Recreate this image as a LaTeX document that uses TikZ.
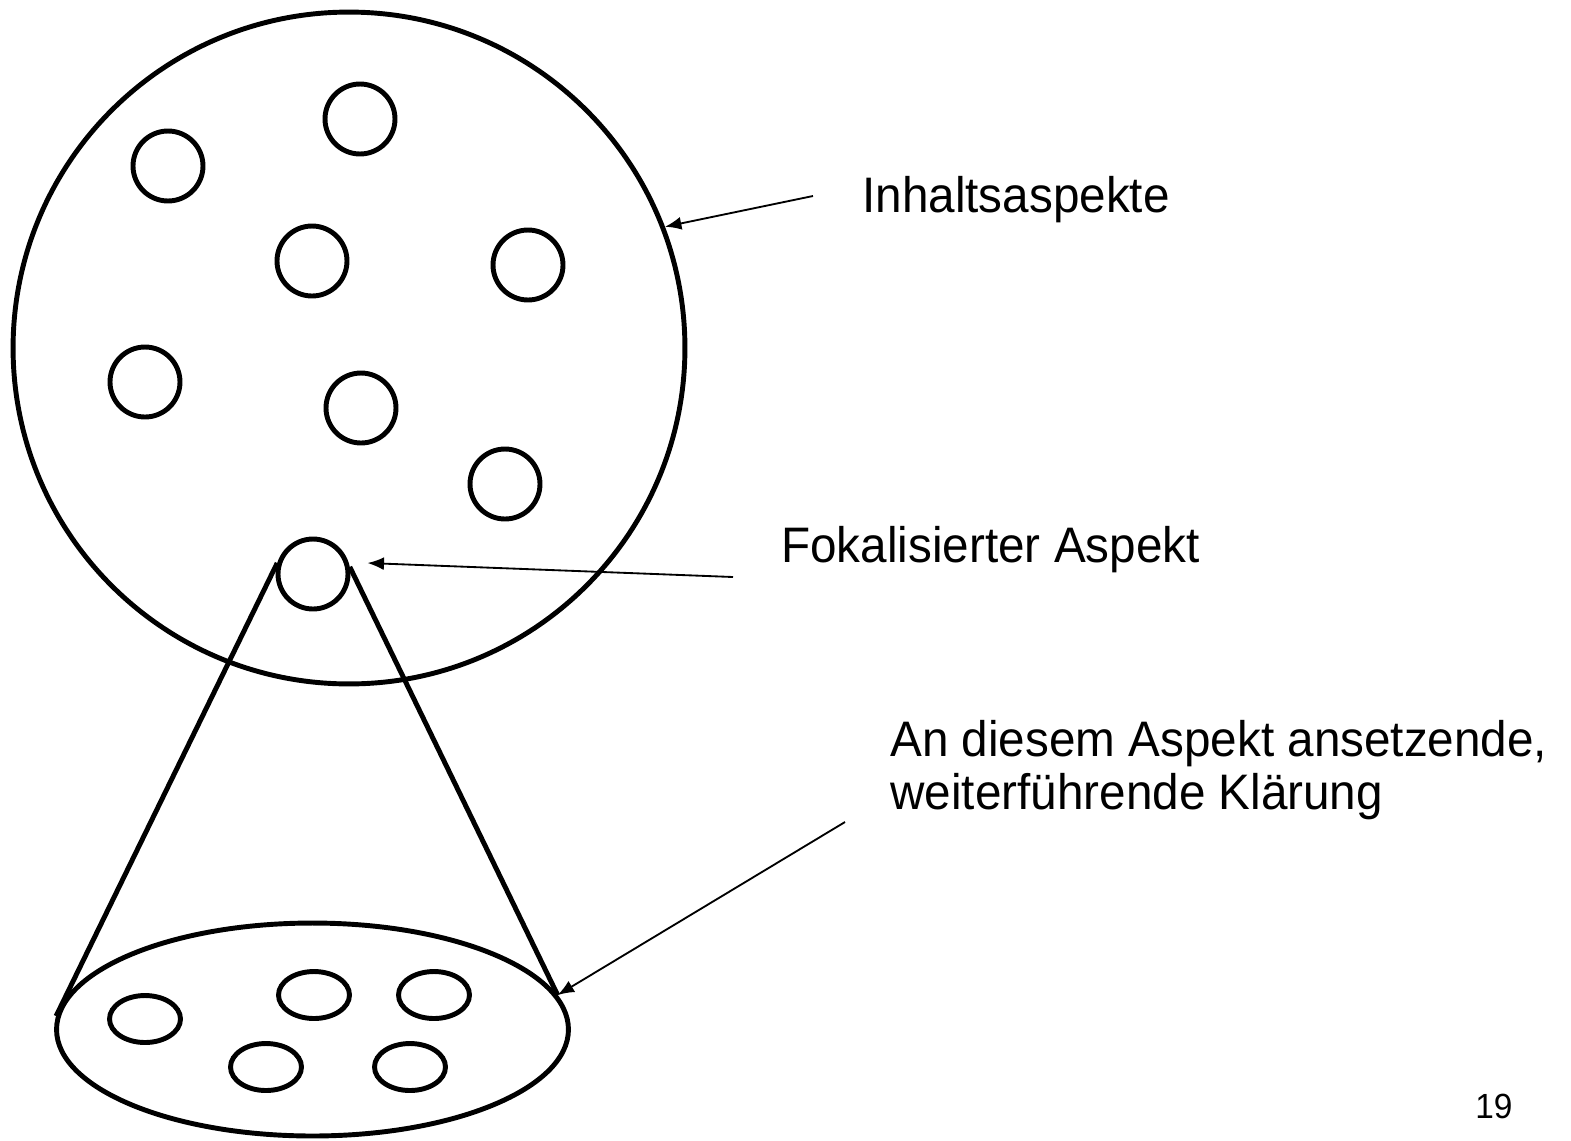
\documentclass[tikz,border=0pt]{standalone}
\usepackage{fontspec}
\setmainfont{Liberation Sans}[FakeStretch=0.955]
\usetikzlibrary{shapes.geometric,arrows.meta,calc}

\tikzset{
  ring/.style={circle, draw, line width=2.8pt, inner sep=0pt},
  aspect/.style={ring, minimum size=1.40cm},
  subaspect/.style={ellipse, draw, line width=2.8pt, inner sep=0pt,
                    minimum width=1.42cm, minimum height=0.94cm},
  cone/.style={line width=2.8pt},
  pointer/.style={line width=1.05pt, -{Latex[length=0.33cm,width=0.26cm]}},
  lbl/.style={inner sep=0pt, anchor=base west, font=\fontsize{28.4}{32}\selectfont},
}

\begin{document}
\begin{tikzpicture}[x=0.02cm, y=-0.02cm]
  \useasboundingbox (0,0) rectangle (1571,1140);

  % content aspects
  \node[ring, minimum size=13.44cm] (big) at (349,348) {};
  \node[aspect] (c1) at (360,119) {};
  \node[aspect] (c2) at (168,166) {};
  \node[aspect] (c3) at (312,261) {};
  \node[aspect] (c4) at (528,265) {};
  \node[aspect] (c5) at (145,382) {};
  \node[aspect] (c6) at (361,408) {};
  \node[aspect] (c7) at (505,484) {};
  \node[aspect] (foc) at (313,574) {};

  % further clarification
  \node[ellipse, draw, line width=2.8pt, inner sep=0pt,
        minimum width=10.24cm, minimum height=4.26cm] (bot) at (312.5,1029.5) {};
  \node[subaspect] (e1) at (145,1019) {};
  \node[subaspect] (e2) at (314,995) {};
  \node[subaspect] (e3) at (434,995) {};
  \node[subaspect] (e4) at (266,1067) {};
  \node[subaspect] (e5) at (410,1067) {};

  % cone from the focused aspect
  \draw[cone] (foc.163) -- (bot.177);
  \draw[cone] (foc.11) -- (bot.8.5);

  % labels
  \node[lbl] (t1) at (862,212) {Inhaltsaspekte};
  \node[lbl] (t2) at (781,562) {Fokalisierter Aspekt};
  \node[lbl] (t3) at (890,756) {An diesem Aspekt ansetzende,};
  \node[lbl] (t4) at (890,809) {weiterführende Klärung};
  \node[inner sep=0pt, anchor=base west, font=\fontsize{19.9}{22}\selectfont] (pg) at (1475,1118) {19};

  % pointers
  \coordinate (p1) at (813,196);
  \coordinate (p2) at (733,577);
  \coordinate (p3) at (845,822);
  \draw[pointer] (p1) -- (big.21.3);
  \draw[pointer] (p2) -- ($(foc.east)+(17,-11)$);
  \draw[pointer] (p3) -- (bot.8.5);
\end{tikzpicture}
\end{document}
